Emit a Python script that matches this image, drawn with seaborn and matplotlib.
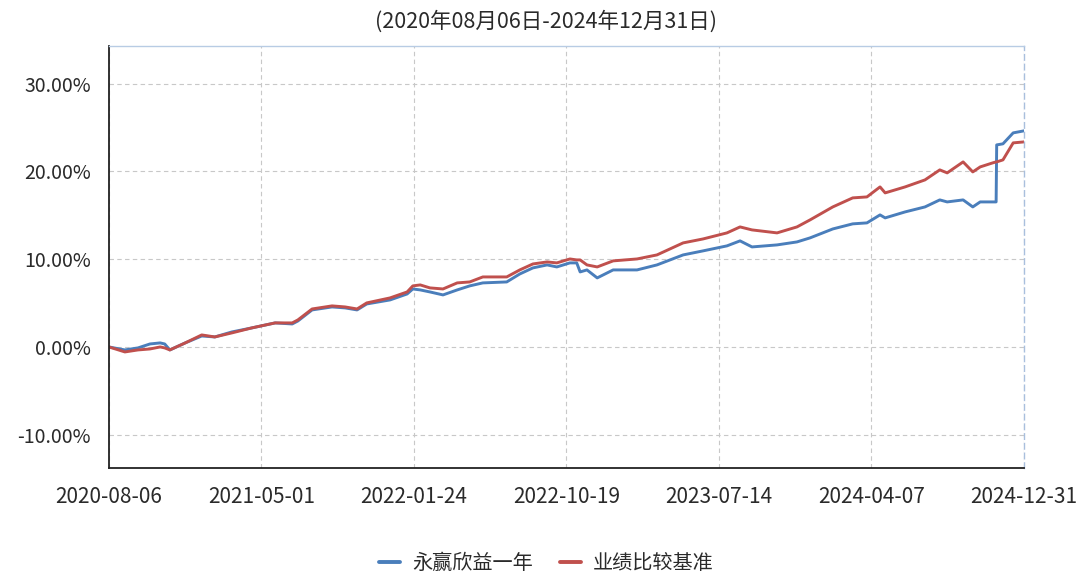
import pandas as pd
import numpy as np
import matplotlib
matplotlib.use("Agg")
import matplotlib.pyplot as plt
import matplotlib.dates as mdates
from matplotlib.ticker import FuncFormatter
import seaborn as sns

dates = [
    "2020-08-06", "2020-09-03", "2020-09-26", "2020-10-17", "2020-11-04", "2020-11-12",
    "2020-11-21", "2020-12-18", "2021-01-16", "2021-02-08", "2021-03-10", "2021-04-14",
    "2021-05-25", "2021-06-24", "2021-07-04", "2021-07-29", "2021-09-02", "2021-09-25",
    "2021-10-16", "2021-11-02", "2021-12-13", "2022-01-12", "2022-01-22", "2022-02-04",
    "2022-02-21", "2022-03-16", "2022-04-10", "2022-05-02", "2022-05-25", "2022-07-06",
    "2022-07-29", "2022-08-21", "2022-09-15", "2022-10-02", "2022-10-25", "2022-11-06",
    "2022-11-12", "2022-11-24", "2022-12-12", "2023-01-09", "2023-02-20", "2023-03-27",
    "2023-05-12", "2023-06-16", "2023-07-28", "2023-08-20", "2023-09-10", "2023-10-24",
    "2023-11-28", "2023-12-21", "2024-01-30", "2024-03-05", "2024-03-30", "2024-04-22",
    "2024-05-01", "2024-06-05", "2024-07-10", "2024-08-05", "2024-08-18", "2024-09-15",
    "2024-10-02", "2024-10-15", "2024-11-06", "2024-11-12", "2024-11-13", "2024-11-24",
    "2024-12-12", "2024-12-31",
]

# 永赢欣益一年 (fund), %
fund = [
    0.00, -0.34, -0.11, 0.34, 0.46, 0.34,
    -0.34, 0.46, 1.25, 1.14, 1.71, 2.17,
    2.74, 2.62, 2.96, 4.22, 4.56, 4.45,
    4.22, 4.90, 5.36, 6.04, 6.61, 6.50,
    6.27, 5.93, 6.50, 6.96, 7.30, 7.41,
    8.32, 9.01, 9.35, 9.12, 9.58, 9.58,
    8.55, 8.78, 7.87, 8.78, 8.78, 9.35,
    10.49, 10.95, 11.52, 12.09, 11.40, 11.63,
    11.97, 12.43, 13.45, 14.03, 14.14, 15.05,
    14.71, 15.39, 15.96, 16.76, 16.53, 16.76,
    15.96, 16.53, 16.53, 16.53, 23.03, 23.15,
    24.40, 24.63,
]

# 业绩比较基准 (benchmark), %
bench = [
    0.00, -0.57, -0.34, -0.23, 0.00, -0.11,
    -0.34, 0.46, 1.37, 1.14, 1.60, 2.17,
    2.74, 2.74, 3.08, 4.33, 4.68, 4.56,
    4.33, 5.02, 5.59, 6.27, 6.96, 7.07,
    6.73, 6.61, 7.30, 7.41, 7.98, 7.98,
    8.78, 9.46, 9.69, 9.58, 10.03, 9.92,
    9.92, 9.35, 9.12, 9.81, 10.03, 10.49,
    11.86, 12.31, 13.00, 13.68, 13.34, 13.00,
    13.68, 14.48, 15.96, 16.99, 17.10, 18.24,
    17.56, 18.24, 19.04, 20.18, 19.84, 21.09,
    19.95, 20.52, 20.98, 21.09, 21.09, 21.32,
    23.26, 23.37,
]

series_names = ["永赢欣益一年", "业绩比较基准"]
colors = ["#4a7ebb", "#c0504d"]
tick_dates = ["2020-08-06", "2021-05-01", "2022-01-24", "2022-10-19",
              "2023-07-14", "2024-04-07", "2024-12-31"]
title = "(2020年08月06日-2024年12月31日)"

df = pd.DataFrame({"date": pd.to_datetime(dates), series_names[0]: fund, series_names[1]: bench})
long = df.melt(id_vars="date", var_name="series", value_name="value")

sns.set_style("white")
plt.rcParams["font.family"] = ["Noto Sans CJK SC", "DejaVu Sans"]
plt.rcParams["axes.unicode_minus"] = False

fig = plt.figure(figsize=(10.82, 5.73), dpi=100)
ax = fig.add_axes([0.1007, 0.1832, 0.8457, 0.7365])

sns.lineplot(data=long, x="date", y="value", hue="series", hue_order=series_names,
             palette=colors, linewidth=2.1, ax=ax, legend=False)

ax.set_xlim(pd.Timestamp(tick_dates[0]), pd.Timestamp(tick_dates[-1]))
ax.set_ylim(-13.8, 34.3)
ax.set_xticks(pd.to_datetime(tick_dates))
ax.xaxis.set_major_formatter(mdates.DateFormatter("%Y-%m-%d"))
ax.set_yticks([-10, 0, 10, 20, 30])
ax.yaxis.set_major_formatter(FuncFormatter(lambda v, p: f"{v:.2f}%"))
ax.set_xlabel("")
ax.set_ylabel("")

ax.grid(True, linestyle=(0, (4, 3)), color="#c8c8c8", linewidth=0.8)
ax.set_axisbelow(True)
ax.tick_params(axis="both", direction="out", length=7, width=1.2, color="#222222",
               labelcolor="#2a2a2a")
ax.tick_params(axis="x", labelsize=15, pad=6)
ax.tick_params(axis="y", labelsize=14, pad=6)

for s in ["left", "bottom"]:
    ax.spines[s].set_color("#222222")
    ax.spines[s].set_linewidth(1.3)
ax.spines["top"].set_color("#b8cce4")
ax.spines["top"].set_linewidth(1.0)
ax.spines["right"].set_color("#a9bfdd")
ax.spines["right"].set_linestyle((0, (4, 3)))
ax.spines["right"].set_linewidth(1.0)

fig.text(0.505, 0.963, title, ha="center", va="center", fontsize=15.5, color="#2a2a2a")

handles = [plt.Line2D([], [], color=c, linewidth=2.8) for c in colors]
fig.legend(handles, series_names, loc="lower center", bbox_to_anchor=(0.505, -0.005),
           ncol=2, frameon=False, fontsize=14.5, handlelength=1.05, columnspacing=1.35,
           handletextpad=0.6, labelcolor="#2a2a2a", borderaxespad=0.0, borderpad=0.1)

fig.savefig("out.png", dpi=100)
